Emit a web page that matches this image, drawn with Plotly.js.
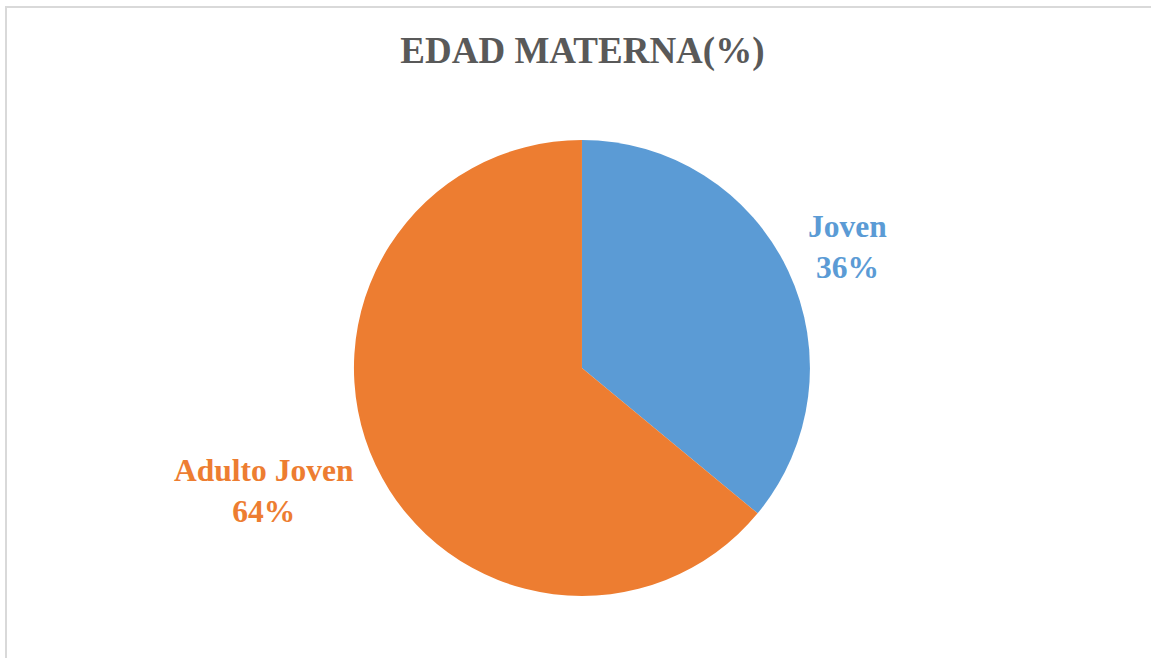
<!DOCTYPE html>
<html>
<head>
<meta charset="utf-8">
<script src="https://cdn.plot.ly/plotly-3.0.1.min.js"></script>
<style>
html,body{margin:0;padding:0;background:#fff;}
#wrap{position:relative;width:1151px;height:658px;overflow:hidden;}
#frame{position:absolute;left:5px;top:6px;width:1200px;height:700px;border-left:2px solid #d9d9d9;border-top:2px solid #d9d9d9;pointer-events:none;z-index:5;}
#chart{position:absolute;left:0;top:0;width:1151px;height:658px;}
</style>
</head>
<body>
<div id="wrap"><div id="chart"></div><div id="frame"></div></div>
<script>
const categories = ["Joven", "Adulto Joven"];
const values = [36, 64];
const colors = ["#5B9BD5", "#ED7D31"];
const titleText = "EDAD MATERNA(%)";

const labelPos = [
  {x: 847/1151, y: 1 - 247/658},
  {x: 264/1151, y: 1 - 491/658}
];

const annotations = categories.map((c, i) => ({
  text: c + "<br>" + values[i] + "%",
  x: labelPos[i].x, y: labelPos[i].y,
  xref: "paper", yref: "paper",
  xanchor: "center", yanchor: "middle",
  showarrow: false,
  font: {family: "Liberation Serif, Times New Roman, serif", size: 31.5, color: colors[i], weight: "bold"}
}));

const trace = {
  type: "pie",
  labels: categories,
  values: values,
  sort: false,
  direction: "clockwise",
  rotation: 0,
  marker: {colors: colors, line: {color: "#ffffff", width: 0}},
  textinfo: "none",
  hoverinfo: "label+percent",
  domain: {x: [0.3075, 0.7037], y: [0.0942, 0.7872]},
  showlegend: false
};

const layout = {
  width: 1151, height: 658,
  margin: {l: 0, r: 0, t: 0, b: 0},
  paper_bgcolor: "#ffffff",
  plot_bgcolor: "#ffffff",
  showlegend: false,
  title: {
    text: "<b>" + titleText + "</b>",
    x: 0.506, xanchor: "center",
    y: 1 - 50/658, yanchor: "middle", yref: "container",
    font: {family: "Liberation Serif, Times New Roman, serif", size: 37, color: "#595959"}
  },
  annotations: annotations
};

Plotly.newPlot("chart", [trace], layout, {displayModeBar: false, staticPlot: true});
</script>
</body>
</html>
